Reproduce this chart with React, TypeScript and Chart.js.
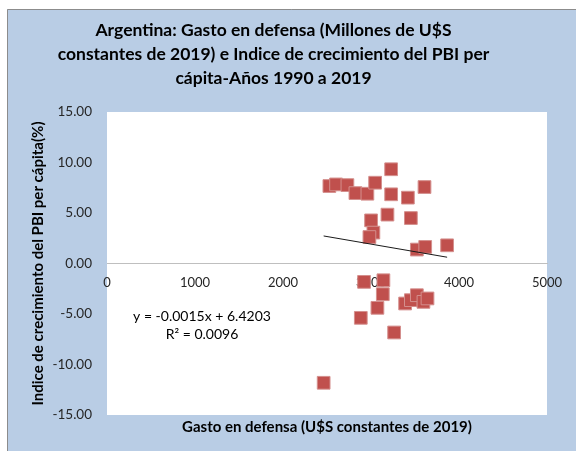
import React, { useEffect, useRef } from 'react';
import { Chart, registerables } from 'chart.js';

Chart.register(...registerables);

// Gasto en defensa (millones de U$S constantes de 2019)
const gastoDefensa = [
  2527, 2603, 2732, 2823, 2959, 3047, 3229, 3229, 3419, 3608,
  3187, 3453, 3001, 3027, 2982, 3521, 3616, 3865, 2921, 3141,
  3134, 3073, 2884, 3263, 3388, 3453, 3521, 3596, 3642, 2462,
];
// Indice de crecimiento del PBI per cápita (%)
const crecimientoPBI = [
  7.67, 7.83, 7.76, 6.97, 6.91, 8.0, 9.33, 6.85, 6.52, 7.57,
  4.84, 4.5, 4.27, 3.06, 2.62, 1.38, 1.64, 1.8, -1.82, -1.66,
  -3.04, -4.39, -5.38, -6.83, -3.96, -3.63, -3.14, -3.8, -3.46, -11.81,
];

const titleLines = [
  'Argentina: Gasto en defensa (Millones de U$S',
  'constantes de 2019) e Indice de crecimiento del PBI per',
  'cápita-Años 1990 a 2019',
];
const xTitle = 'Gasto en defensa (U$S constantes de 2019)';
const yTitle = 'Indice de crecimiento del PBI per cápita(%)';
const equationLines = ['y = -0.0015x + 6.4203', 'R² = 0.0096'];
const trendSlope = -0.0015;
const trendIntercept = 6.4203;

const FONT = 'Lato';

export default function App() {
  const ref = useRef<HTMLCanvasElement | null>(null);

  useEffect(() => {
    if (!ref.current) return;
    const minX = Math.min(...gastoDefensa);
    const maxX = Math.max(...gastoDefensa);
    const trend = [minX, maxX].map((x) => ({ x, y: trendSlope * x + trendIntercept }));
    const points = gastoDefensa.map((x, i) => ({ x, y: crecimientoPBI[i] }));

    const bgPlugin = {
      id: 'bgPlugin',
      beforeDraw(chart: any) {
        const { ctx, width, height, chartArea } = chart;
        ctx.save();
        ctx.fillStyle = '#ffffff';
        ctx.fillRect(0, 0, width, height);
        ctx.fillStyle = '#b9cde5';
        ctx.fillRect(7, 9, width - 7, height - 9);
        ctx.strokeStyle = '#8c8c8c';
        ctx.lineWidth = 1;
        ctx.beginPath();
        ctx.moveTo(7.5, height);
        ctx.lineTo(7.5, 9.5);
        ctx.lineTo(width, 9.5);
        ctx.stroke();
        ctx.fillStyle = '#ffffff';
        ctx.fillRect(chartArea.left, chartArea.top, chartArea.right - chartArea.left, chartArea.bottom - chartArea.top);
        ctx.restore();
      },
      afterDraw(chart: any) {
        const { ctx, chartArea } = chart;
        ctx.save();
        ctx.fillStyle = '#000000';
        ctx.font = `14px ${FONT}`;
        ctx.textAlign = 'center';
        ctx.textBaseline = 'middle';
        const cx = chartArea.left + 95;
        ctx.fillText(equationLines[0], cx, chartArea.top + 204);
        ctx.fillText(equationLines[1], cx, chartArea.top + 222);
        ctx.restore();
      },
    };

    const chart = new Chart(ref.current, {
      type: 'scatter',
      data: {
        datasets: [
          {
            type: 'line',
            label: 'Tendencia',
            data: trend,
            borderColor: '#1a1a1a',
            borderWidth: 1,
            pointRadius: 0,
            fill: false,
          } as any,
          {
            label: 'Datos',
            data: points,
            pointStyle: 'rect',
            pointRadius: 9,
            backgroundColor: '#c0504d',
            borderColor: '#d48f8d',
            borderWidth: 1,
          },
        ],
      },
      options: {
        responsive: false,
        animation: false,
        layout: { padding: { left: 0, right: 29, top: 0, bottom: 0 } },
        plugins: {
          legend: { display: false },
          tooltip: { enabled: false },
          title: {
            display: true,
            text: titleLines,
            color: '#000000',
            font: { family: FONT, size: 17.5, weight: 'bold', lineHeight: 24 / 17.5 },
            padding: { top: 18, bottom: 22 },
          },
          subtitle: {
            display: true,
            position: 'bottom',
            fullSize: false,
            text: xTitle,
            color: '#000000',
            font: { family: FONT, size: 15, weight: 'bold', lineHeight: 1.2 },
            padding: { top: 3, bottom: 15 },
          },
        },
        scales: {
          x: {
            type: 'linear',
            position: { y: 0 } as any,
            min: 0,
            max: 5000,
            z: 1,
            grid: { display: false, drawTicks: false },
            border: { display: true, color: '#bfbfbf', width: 1 },
            ticks: {
              stepSize: 1000,
              padding: 12,
              color: '#262626',
              font: { family: FONT, size: 13 },
              maxRotation: 0,
              callback: (v: any) => String(v),
            },
            afterFit(scale: any) {
              scale.height = 0;
            },
          },
          y: {
            type: 'linear',
            min: -15,
            max: 15,
            grid: { display: false, drawTicks: false },
            border: { display: false },
            ticks: {
              stepSize: 5,
              padding: 15,
              color: '#262626',
              font: { family: FONT, size: 13.5 },
              callback: (v: any) => Number(v).toFixed(2),
            },
            title: {
              display: true,
              text: yTitle,
              color: '#000000',
              font: { family: FONT, size: 15, weight: 'bold', lineHeight: 1.2 },
              padding: { top: 29, bottom: 0 },
            },
            afterFit(scale: any) {
              scale.width = 107;
            },
          },
        },
      },
      plugins: [bgPlugin],
    });
    return () => chart.destroy();
  }, []);

  return (
    <div style={{ position: 'fixed', left: 0, top: 0, width: 576, height: 451 }}>
      <canvas ref={ref} width={576} height={451} style={{ display: 'block' }} />
    </div>
  );
}
